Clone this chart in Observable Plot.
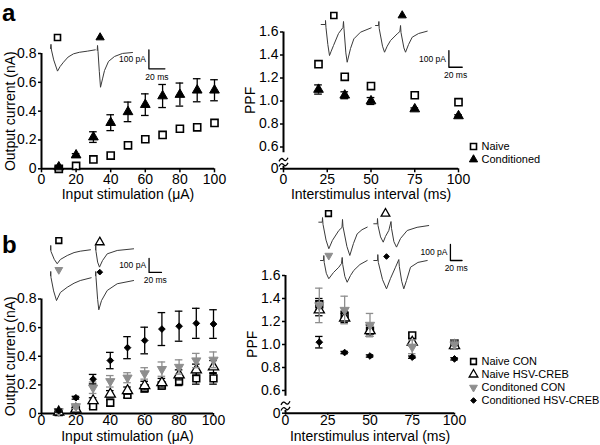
<!DOCTYPE html>
<html><head><meta charset="utf-8">
<script src="https://cdn.jsdelivr.net/npm/d3@7"></script>
<script src="https://cdn.jsdelivr.net/npm/@observablehq/plot@0.6"></script>
<style>
body{margin:0;background:#fff;}
#fig{position:relative;width:600px;height:445px;overflow:hidden;font-family:"Liberation Sans",Arial,sans-serif;color:#000;}
#fig > div{position:absolute;}
#fig svg{overflow:visible;background:transparent;}
.plab{font-weight:bold;font-size:24px;line-height:1;}
</style></head><body><div id="fig"></div>
<script>
// ---------- data ----------
const stim = [10, 20, 30, 40, 50, 60, 70, 80, 90, 100];
const isi = [20, 35, 50, 75, 100];
const stimTicks = [0, 20, 40, 60, 80, 100];
const isiTicks = [0, 25, 50, 75, 100];
const currentTicks = [0, 0.2, 0.4, 0.6, 0.8];
const ppfTicks = [0, 0.6, 0.8, 1.0, 1.2, 1.4, 1.6];

// panel a, input-output
const aNaive = [0.0, 0.02, 0.065, 0.092, 0.163, 0.205, 0.235, 0.278, 0.288, 0.318];
const aCond = [0.012, 0.095, 0.22, 0.32, 0.395, 0.445, 0.505, 0.515, 0.545, 0.545];
const aCondErr = [0.005, 0.01, 0.037, 0.055, 0.068, 0.075, 0.08, 0.08, 0.08, 0.073];
// panel a, PPF
const aPpfNaive = [1.32, 1.21, 1.13, 1.05, 0.99];
const aPpfCond = [1.10, 1.05, 1.00, 0.93, 0.87];
const aPpfCondErr = [0.04, 0.03, 0.03, 0.01, 0.01];
const aNames = ["Naive", "Conditioned"];

// panel b, input-output
const bNaiveCon = [0.01, 0.03, 0.05, 0.075, 0.13, 0.175, 0.195, 0.225, 0.245, 0.245];
const bNaiveConErr = [0.005, 0.01, 0.015, 0.02, 0.02, 0.025, 0.025, 0.03, 0.04, 0.04];
const bNaiveHsv = [0.01, 0.03, 0.09, 0.135, 0.16, 0.195, 0.215, 0.27, 0.305, 0.325];
const bNaiveHsvErr = [0.005, 0.01, 0.02, 0.025, 0.025, 0.03, 0.03, 0.035, 0.04, 0.045];
const bCondCon = [0.015, 0.05, 0.18, 0.225, 0.25, 0.28, 0.31, 0.325, 0.37, 0.375];
const bCondConErr = [0.005, 0.015, 0.04, 0.04, 0.035, 0.04, 0.05, 0.05, 0.05, 0.055];
const bCondHsv = [0.02, 0.11, 0.24, 0.37, 0.46, 0.51, 0.59, 0.61, 0.63, 0.625];
const bCondHsvErr = [0.01, 0.01, 0.033, 0.057, 0.077, 0.093, 0.115, 0.105, 0.105, 0.1];
// panel b, PPF
const bPpfNaiveCon = [1.35, 1.25, 1.12, 1.08, 1.01];
const bPpfNaiveConErr = [0.05, 0.04, 0.05, 0.02, 0.03];
const bPpfNaiveHsv = [1.30, 1.23, 1.12, 1.02, 0.99];
const bPpfNaiveHsvErr = [0.05, 0.04, 0.05, 0.03, 0.03];
const bPpfCondCon = [1.34, 1.30, 1.17, 0.98, 1.00];
const bPpfCondConErr = [0.15, 0.12, 0.10, 0.06, 0.04];
const bPpfCondHsv = [1.02, 0.93, 0.90, 0.89, 0.875];
const bPpfCondHsvErr = [0.05, 0.01, 0.01, 0.01, 0.01];
const bNames = ["Naive CON", "Naive HSV-CREB", "Conditoned CON", "Conditioned HSV-CREB"];

// example traces [time ms, current pA]
const aTrNaive = [[0,0],[0.6,22],[1.2,-8],[4,-60],[8.75,-119],[12,-95],[16.25,-72],[22,-45],[28.75,-28],[36,-20],[46,-14],[56,-7]];
const aTrCond = [[58.4,-10],[58.8,16],[59.4,-16],[61,-120],[62.5,-204],[65,-160],[67.5,-116],[72.5,-68],[80,-42],[90,-26],[102.5,-21]];
const aPpfTrNaive = [[1,0],[7.5,0],[7.5,24],[8.2,-18],[11,-120],[13.5,-186],[16,-160],[19.5,-126],[27,-54],[33.7,-18],[34.5,18],[35.2,-24],[38,-170],[40,-226],[45,-144],[50,-86],[60,-46],[76,-20]];
const aPpfTrCond = [[82.5,-6],[87,-6],[87.5,18],[88,-24],[93,-130],[96,-166],[100,-130],[105,-96],[115,-56],[119,-42],[120,-6],[120.7,-48],[125,-140],[127.5,-166],[132,-120],[137.5,-76],[147,-54],[160,-40]];
const bTrNaiveCon = [[0,-2],[0.4,29],[0.8,-14],[6,-70],[10.8,-102],[16,-71],[27,-43],[38,-22],[48,-12],[64.5,-2]];
const bTrNaiveHsv = [[72.6,-2],[73,29],[73.4,-14],[76,-90],[79,-126],[83.9,-79],[91.5,-31],[107.6,-7],[134,5]];
const bTrCondCon = [[0,0],[0.4,29],[0.8,-14],[5,-110],[9.7,-179],[16,-121],[27,-84],[38,-55],[48,-36],[65.6,-16]];
const bTrCondHsv = [[72.6,0],[73,29],[73.4,-14],[76,-170],[77.9,-245],[82.3,-179],[91.5,-107],[107.6,-59],[134,-36]];
const bPpfTrNaiveCon = [[0.5,2],[6.5,2],[6.9,31],[7.8,-12],[13,-110],[17.8,-164],[24,-112],[35,-50],[40.5,-31],[41.4,19],[42.2,-25],[49,-150],[54,-206],[60.3,-131],[66.7,-71],[75,-45],[84,-29]];
const bPpfTrNaiveHsv = [[95.3,-8],[101.3,-8],[101.7,25],[102.6,-19],[107,-90],[111.6,-123],[115.5,-87],[121.2,-50],[125,6],[125.9,-37],[130,-120],[134.5,-154],[141.4,-100],[152.9,-50],[170,-30],[190,-19]];
const bPpfTrCondCon = [[0,0],[5.3,0],[5.7,31],[6.4,-12],[10,-80],[14.3,-114],[22.4,-75],[31.6,-42],[36.2,-19],[37.4,19],[38.3,-25],[42,-100],[46,-136],[51.7,-94],[57.4,-62],[68,-25],[80.5,0]];
const bPpfTrCondHsv = [[91.9,0],[98.4,0],[98.8,37],[99.7,-12],[107,-120],[113.8,-177],[120.7,-112],[129.3,-42],[135,6],[135.9,-37],[140,-130],[143.6,-177],[148.3,-125],[155.2,-42],[168,-12],[184,0]];
const barMs = 20, barPa = 100;

// ---------- helpers ----------
const GREY = "#8e8e8e";
const fmt1 = d => d === 0 ? "0" : d.toFixed(1);
const triDown = {draw(ctx, size){ const a = Math.sqrt(4*size/Math.sqrt(3)), h = a*Math.sqrt(3)/2; ctx.moveTo(0, 2*h/3); ctx.lineTo(a/2, -h/3); ctx.lineTo(-a/2, -h/3); ctx.closePath(); }};
const squiggle = {draw(ctx){ ctx.moveTo(-4.5, 1.8); ctx.quadraticCurveTo(-2.2, -2.8, 0, 0); ctx.quadraticCurveTo(2.2, 2.8, 4.5, -1.8); }};
const STY = {
  naive:   {symbol: "square", r: 4.0, fill: "white", stroke: "black", sw: 1.6, ec: "black"},
  cond:    {symbol: "triangle", r: 3.6, fill: "black", stroke: "black", sw: 1, ec: "black"},
  nCon:    {symbol: "square", r: 3.8, fill: "white", stroke: "black", sw: 1.6, ec: "black"},
  nHsv:    {symbol: "triangle", r: 3.8, fill: "white", stroke: "black", sw: 1.3, ec: "black"},
  cCon:    {symbol: triDown, r: 3.4, fill: GREY, stroke: GREY, sw: 1, ec: GREY},
  cHsv:    {symbol: "diamond2", r: 3.0, fill: "black", stroke: "black", sw: 1, ec: "black"}
};
// broken PPF axis: the 0-0.5 stretch is compressed
const brokenY = k => v => v >= 0.5 ? v : 0.5 - (0.5 - v) * k;
const ident = v => v;
const fig = document.getElementById("fig");
function place(node, left, top){ const d = document.createElement("div"); d.style.left = left + "px"; d.style.top = top + "px"; d.appendChild(node); fig.appendChild(d); return d; }

function panel(o){
  const fy = o.fy || ident;
  const marks = [Plot.ruleY([fy(0)], {strokeWidth: 2})];
  if (o.brk){
    marks.push(Plot.ruleX([0], {y1: fy(0), y2: fy(o.brk[0]), strokeWidth: 2}));
    marks.push(Plot.ruleX([0], {y1: fy(o.brk[1]), y2: fy(o.yTicks[o.yTicks.length - 1]), strokeWidth: 2}));
    marks.push(Plot.dot(o.brkMarks, {x: () => 0, y: d => fy(d), symbol: squiggle, r: 3, fill: "none", stroke: "black", strokeWidth: 1.3}));
  } else {
    marks.push(Plot.ruleX([0], {strokeWidth: 2}));
  }
  for (const s of o.series){
    const st = s.style;
    const d = s.x.map((x, i) => ({x, y: s.y[i], e: s.err ? s.err[i] : 0}));
    const de = d.filter(r => r.e > 0);
    marks.push(Plot.ruleX(de, {x: "x", y1: r => fy(r.y - r.e), y2: r => fy(r.y + r.e), stroke: st.ec, strokeWidth: 1.3}));
    marks.push(Plot.ruleY(de, {y: r => fy(r.y + r.e), x1: r => r.x - o.cap, x2: r => r.x + o.cap, stroke: st.ec, strokeWidth: 1.3}));
    marks.push(Plot.ruleY(de, {y: r => fy(r.y - r.e), x1: r => r.x - o.cap, x2: r => r.x + o.cap, stroke: st.ec, strokeWidth: 1.3}));
    marks.push(Plot.dot(d, {x: "x", y: r => fy(r.y), symbol: st.symbol, r: st.r, fill: st.fill, stroke: st.stroke, strokeWidth: st.sw}));
  }
  const tickLab = new Map(o.yTicks.map(t => [fy(t), fmt1(t)]));
  marks.push(Plot.axisX({ticks: o.xTicks, tickSize: o.tickX, tickPadding: o.padX, strokeWidth: 1.5, label: o.xLabel, labelAnchor: "center", labelOffset: o.xLabelOffset, labelArrow: "none", fontSize: 14}));
  marks.push(Plot.axisY({ticks: o.yTicks.map(fy), tickFormat: v => tickLab.get(v), tickSize: 3, tickPadding: 2, strokeWidth: 1.5, label: o.yLabel, labelAnchor: "center", labelOffset: o.yLabelOffset, labelArrow: "none", fontSize: 14}));
  const svg = Plot.plot({
    width: o.width, height: o.height,
    marginLeft: o.ml, marginRight: o.mr, marginTop: o.mt, marginBottom: o.mb,
    x: {domain: [0, 100]}, y: {domain: [fy(0), fy(o.yTicks[o.yTicks.length - 1])]},
    style: {fontFamily: "'Liberation Sans', Arial, sans-serif", fontSize: "14px", color: "black", background: "transparent", overflow: "visible"},
    marks
  });
  place(svg, o.left, o.top);
}

function inset(o){
  const xd = [-o.x0 / o.kx, (o.width - o.x0) / o.kx];
  const yd = [(o.y0 - o.height) / o.ky, o.y0 / o.ky];
  const marks = o.traces.map(tr => Plot.line(tr, {x: d => d[0], y: d => d[1], stroke: "#3a3a3a", strokeWidth: 1}));
  for (const m of o.markers){
    const st = m.style;
    marks.push(Plot.dot([m.at], {x: d => d[0], y: d => d[1], symbol: st.symbol, r: st.r * 0.85, fill: st.fill, stroke: st.stroke, strokeWidth: st.sw}));
  }
  if (o.bar){
    const [bt, bi] = o.bar;
    marks.push(Plot.line([[bt, bi + barPa], [bt, bi], [bt + barMs, bi]], {x: d => d[0], y: d => d[1], stroke: "black", strokeWidth: 1.3}));
    marks.push(Plot.text([[bt, bi + barPa/2]], {x: d => d[0], y: d => d[1], text: () => barPa + " pA", textAnchor: "end", dx: -3, fontSize: 8.5, fill: "black"}));
    marks.push(Plot.text([[bt + barMs/2, bi]], {x: d => d[0], y: d => d[1], text: () => barMs + " ms", dy: 8, fontSize: 8.5, fill: "black"}));
  }
  const svg = Plot.plot({
    width: o.width, height: o.height, margin: 0,
    x: {domain: xd, axis: null}, y: {domain: yd, axis: null},
    style: {fontFamily: "'Liberation Sans', Arial, sans-serif", background: "transparent", overflow: "visible"},
    marks
  });
  place(svg, o.left, o.top);
}

function legend(names, styles, left, top, step){
  const n = names.length;
  const marks = [];
  names.forEach((nm, i) => {
    const st = styles[i];
    marks.push(Plot.dot([nm], {x: () => 0, y: d => d, symbol: st.symbol, r: st.r * 0.85, fill: st.fill, stroke: st.stroke, strokeWidth: st.sw}));
  });
  marks.push(Plot.text(names, {x: () => 0, y: d => d, text: d => d, dx: 8, textAnchor: "start", fontSize: 11, fill: "black"}));
  const svg = Plot.plot({
    width: 128, height: step * n + 6, margin: 0,
    x: {domain: [0, 1], range: [5, 125], axis: null},
    y: {type: "point", domain: names, range: [6, 6 + step * (n - 1)], padding: 0, axis: null},
    style: {fontFamily: "'Liberation Sans', Arial, sans-serif", background: "transparent", overflow: "visible"},
    marks
  });
  place(svg, left, top);
}

// ---------- panel a ----------
panel({left: 0, top: 0, width: 230, height: 205, ml: 41, mr: 16, mt: 53, mb: 36.7,
  xTicks: stimTicks, yTicks: currentTicks, cap: 2.2, tickX: 4, padX: 1,
  xLabel: "Input stimulation (μA)", yLabel: "Output current (nA)", xLabelOffset: 30, yLabelOffset: 36,
  series: [
    {x: stim, y: aNaive, style: STY.naive},
    {x: stim, y: aCond, err: aCondErr, style: STY.cond}
  ]});
panel({left: 240, top: 0, width: 230, height: 205, ml: 43, mr: 12, mt: 31.5, mb: 36.7,
  fy: brokenY(0.179), xTicks: isiTicks, yTicks: ppfTicks, cap: 2.2, tickX: 4, padX: 1,
  brk: [0.12, 0.55], brkMarks: [0.45, 0.2],
  xLabel: "Interstimulus interval (ms)", yLabel: "PPF", xLabelOffset: 30, yLabelOffset: 38,
  series: [
    {x: isi, y: aPpfNaive, style: STY.naive},
    {x: isi, y: aPpfCond, err: aPpfCondErr, style: STY.cond}
  ]});
legend(aNames, [STY.naive, STY.cond], 468, 140, 13);

// ---------- panel b ----------
panel({left: 0, top: 240, width: 230, height: 205, ml: 41, mr: 17, mt: 58.5, mb: 32,
  xTicks: stimTicks, yTicks: currentTicks, cap: 2.2, tickX: 2, padX: 0,
  xLabel: "Input stimulation (μA)", yLabel: "Output current (nA)", xLabelOffset: 27.5, yLabelOffset: 36,
  series: [
    {x: stim, y: bNaiveCon, err: bNaiveConErr, style: STY.nCon},
    {x: stim, y: bNaiveHsv, err: bNaiveHsvErr, style: STY.nHsv},
    {x: stim, y: bCondCon, err: bCondConErr, style: STY.cCon},
    {x: stim, y: bCondHsv, err: bCondHsvErr, style: STY.cHsv}
  ]});
panel({left: 240, top: 240, width: 230, height: 205, ml: 45, mr: 16, mt: 35, mb: 32.3,
  fy: brokenY(0.195), xTicks: isiTicks, yTicks: ppfTicks, cap: 2.2, tickX: 2, padX: 0,
  brk: [0.12, 0.55], brkMarks: [0.45, 0.2],
  xLabel: "Interstimulus interval (ms)", yLabel: "PPF", xLabelOffset: 27.5, yLabelOffset: 38,
  series: [
    {x: isi, y: bPpfNaiveCon, err: bPpfNaiveConErr, style: STY.nCon},
    {x: isi, y: bPpfNaiveHsv, err: bPpfNaiveHsvErr, style: STY.nHsv},
    {x: isi, y: bPpfCondCon, err: bPpfCondConErr, style: STY.cCon},
    {x: isi, y: bPpfCondHsv, err: bPpfCondHsvErr, style: STY.cHsv}
  ]});
legend(bNames, [STY.nCon, STY.nHsv, STY.cCon, STY.cHsv], 468, 355, 13.1);

// ---------- insets (example traces) ----------
inset({left: 44, top: 28, width: 135, height: 64, x0: 6, y0: 20, kx: 0.8, ky: 0.19,
  traces: [aTrNaive, aTrCond], bar: [123, -107],
  markers: [{at: [8.75, 58], style: STY.naive}, {at: [62, 58], style: STY.cond}]});
inset({left: 312, top: 5, width: 160, height: 80, x0: 8, y0: 19, kx: 0.667, ky: 0.167,
  traces: [aPpfTrNaive, aPpfTrCond], bar: [192.5, -256],
  markers: [{at: [20, 54], style: STY.naive}, {at: [122.5, 54], style: STY.cond}]});
inset({left: 44, top: 232, width: 140, height: 55, x0: 6, y0: 17, kx: 0.62, ky: 0.14,
  traces: [bTrNaiveCon, bTrNaiveHsv], bar: [159, -164],
  markers: [{at: [13.4, 64], style: STY.nCon}, {at: [79.5, 52], style: STY.nHsv}]});
inset({left: 44, top: 262, width: 100, height: 55, x0: 6, y0: 13, kx: 0.62, ky: 0.14,
  traces: [bTrCondCon, bTrCondHsv],
  markers: [{at: [13.4, 41], style: STY.cCon}, {at: [79.5, 24], style: STY.cHsv}]});
inset({left: 312, top: 205, width: 130, height: 55, x0: 6, y0: 17, kx: 0.58, ky: 0.16,
  traces: [bPpfTrNaiveCon, bPpfTrNaiveHsv],
  markers: [{at: [17.2, 56], style: STY.nCon}, {at: [115.5, 56], style: STY.nHsv}]});
inset({left: 312, top: 240, width: 160, height: 60, x0: 8, y0: 20, kx: 0.58, ky: 0.16,
  traces: [bPpfTrCondCon, bPpfTrCondHsv], bar: [224, 0],
  markers: [{at: [14.3, 31], style: STY.cCon}, {at: [113.8, 25], style: STY.cHsv}]});

// ---------- panel letters ----------
const la = document.createElement("span"); la.className = "plab"; la.textContent = "a"; place(la, 2, 1);
const lb = document.createElement("span"); lb.className = "plab"; lb.textContent = "b"; place(lb, 2, 233);
</script></body></html>
